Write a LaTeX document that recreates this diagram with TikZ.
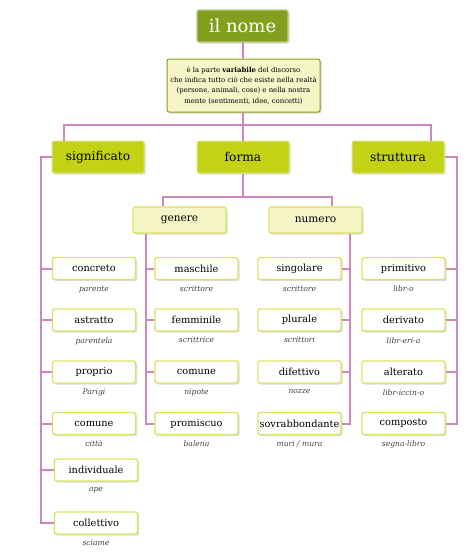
\documentclass[tikz,border=0pt]{standalone}
\usepackage{tikz}
\usepackage{xcolor}
\usepackage{fontspec}
\setmainfont{DejaVu Serif}
\usetikzlibrary{positioning, shadows}
\definecolor{olive}{RGB}{130,160,30}
\definecolor{lime}{RGB}{195,210,20}
\definecolor{cream}{RGB}{246,245,200}
\definecolor{yborder}{RGB}{222,226,100}
\definecolor{orchid}{RGB}{205,135,188}
\tikzset{
    boxshadow/.style={drop shadow={opacity=0.28, shadow xshift=1.5pt, shadow yshift=-1.5pt}},
    title/.style={rectangle, rounded corners=1.5pt, fill=olive, draw=olive!55, line width=1.2pt, text=white, minimum width=91pt, minimum height=32pt, font=\fontsize{18}{21}\selectfont, boxshadow},
    defbox/.style={rectangle, rounded corners=2pt, fill=cream, draw=olive, line width=1pt, minimum width=153pt, minimum height=53pt, inner sep=1pt, align=center, font=\fontsize{6.9}{10.4}\selectfont, boxshadow},
    main/.style={rectangle, rounded corners=1.5pt, fill=lime, draw=lime!60, line width=1pt, minimum width=92pt, minimum height=32pt, font=\fontsize{12.2}{14}\selectfont, boxshadow},
    sub/.style={rectangle, rounded corners=2pt, fill=cream, draw=yborder, line width=1.3pt, minimum width=93pt, minimum height=26pt, font=\fontsize{10.6}{12}\selectfont, boxshadow},
    leaf/.style={rectangle, rounded corners=2pt, fill=white, draw=yborder, line width=1.4pt, minimum width=83pt, minimum height=22pt, inner sep=1pt, font=\fontsize{9.8}{12}\selectfont, boxshadow},
    ex/.style={inner sep=1pt, font=\fontsize{7.6}{9}\itshape, text=black!75},
    link/.style={draw=orchid, line width=2pt}
}

\begin{document}
\begin{tikzpicture}[x=1pt, y=-1pt]
\useasboundingbox (0,0) rectangle (474,555);

% Nodes
\node[title] (nome) at (242.5,26) {il nome};
\node[defbox] (def) at (243.5,85.5) {è la parte \textbf{variabile} del discorso\\che indica tutto ciò che esiste nella realtà\\(persone, animali, cose) e nella nostra\\mente (sentimenti, idee, concetti)};

\node[main] (sig) at (98,157) {significato};
\node[main] (forma) at (243,157) {forma};
\node[main] (strut) at (398,157) {struttura};

\node[sub] (gen) at (179.5,220) {genere};
\node[sub] (num) at (315.5,220) {numero};

% significato
\node[leaf] (conc) at (94,268.5) {concreto};
\node[leaf] (astr) at (94,320) {astratto};
\node[leaf] (prop) at (94,372) {proprio};
\node[leaf] (com) at (94,423.5) {comune};
\node[leaf] (ind) at (96,470) {individuale};
\node[leaf] (coll) at (96,523) {collettivo};

% genere
\node[leaf] (masc) at (196.5,268.5) {maschile};
\node[leaf] (femm) at (196.5,320) {femminile};
\node[leaf] (comn) at (196.5,372) {comune};
\node[leaf] (prom) at (196.5,423.5) {promiscuo};

% numero
\node[leaf] (sing) at (299.5,268.5) {singolare};
\node[leaf] (plur) at (299.5,320) {plurale};
\node[leaf] (dif) at (299.5,372) {difettivo};
\node[leaf] (sovr) at (299.5,423.5) {sovrabbondante};

% struttura
\node[leaf] (prim) at (403.5,268.5) {primitivo};
\node[leaf] (deri) at (403.5,320) {derivato};
\node[leaf] (alte) at (403.5,372) {alterato};
\node[leaf] (comp) at (403.5,423.5) {composto};

% Examples
\node[ex, below=4.5pt of conc] (conc-ex) {parente};
\node[ex, below=4.5pt of astr] (astr-ex) {parentela};
\node[ex, below=4.5pt of prop] (prop-ex) {Parigi};
\node[ex, below=4.5pt of com] (com-ex) {città};
\node[ex, below=4.5pt of ind] (ind-ex) {ape};
\node[ex, below=4.5pt of coll] (coll-ex) {sciame};
\node[ex, below=4.5pt of masc] (masc-ex) {scrittore};
\node[ex, below=4.5pt of femm] (femm-ex) {scrittrice};
\node[ex, below=4.5pt of comn] (comn-ex) {nipote};
\node[ex, below=4.5pt of prom] (prom-ex) {balena};
\node[ex, below=4.5pt of sing] (sing-ex) {scrittore};
\node[ex, below=4.5pt of plur] (plur-ex) {scrittori};
\node[ex, below=4.5pt of dif] (dif-ex) {nozze};
\node[ex, below=4.5pt of sovr] (sovr-ex) {muri / mura};
\node[ex, below=4.5pt of prim] (prim-ex) {libr-o};
\node[ex, below=4.5pt of deri] (deri-ex) {libr-eri-a};
\node[ex, below=4.5pt of alte] (alte-ex) {libr-iccin-o};
\node[ex, below=4.5pt of comp] (comp-ex) {segna-libro};

% Links
\coordinate (tbar) at (243,125);
\coordinate (fbar) at (243,197);
\draw[link] (nome) -- (def);
\draw[link] (def) -- (tbar);
\draw[link] ([xshift=-34pt]sig.north) |- (tbar) -| ([xshift=33pt]strut.north);
\draw[link] (tbar) -- (forma.north);
\draw[link] (forma) -- (fbar);
\draw[link] ([xshift=-16.5pt]gen.north) |- (fbar) -| ([xshift=16.5pt]num.north);

\draw[link] (sig.west) -| ([xshift=-13pt]coll.west) -- (coll.west);
\draw[link] (conc.west) -- ++(-11.5,0);
\draw[link] (astr.west) -- ++(-11.5,0);
\draw[link] (prop.west) -- ++(-11.5,0);
\draw[link] (com.west) -- ++(-11.5,0);
\draw[link] (ind.west) -- ++(-13,0);

\draw[link] ([xshift=14pt]gen.south west) |- (prom.west);
\draw[link] (masc.west) -- ++(-8,0);
\draw[link] (femm.west) -- ++(-8,0);
\draw[link] (comn.west) -- ++(-8,0);

\draw[link] ([xshift=-13pt]num.south east) |- (sovr.east);
\draw[link] (sing.east) -- ++(8,0);
\draw[link] (plur.east) -- ++(8,0);
\draw[link] (dif.east) -- ++(8,0);

\draw[link] (strut.east) -| ([xshift=11.5pt]comp.east) -- (comp.east);
\draw[link] (prim.east) -- ++(11.5,0);
\draw[link] (deri.east) -- ++(11.5,0);
\draw[link] (alte.east) -- ++(11.5,0);

\end{tikzpicture}
\end{document}
